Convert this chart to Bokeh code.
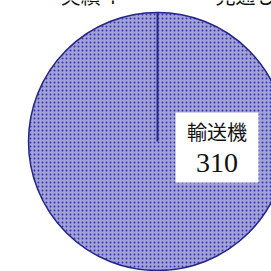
import math
from bokeh.plotting import figure
from bokeh.models import Range1d, ColumnDataSource
from bokeh.core.properties import value
from bokeh.embed import file_html
from bokeh.resources import INLINE

# data
categories = ["輸送機"]
values = [310]
header_labels = ["実績 4", "見通し"]

W = H = 271
p = figure(width=W, height=H, output_backend="svg", toolbar_location=None,
           x_range=Range1d(0, W), y_range=Range1d(0, H), min_border=0)
p.axis.visible = False
p.grid.visible = False
p.outline_line_color = None
p.background_fill_color = "white"
p.border_fill_color = "white"

RH = H  # y measured from top
cx, cy, r = 157, RH - 141, 129
total = sum(values)
starts, ends = [], []
a = math.pi / 2
for v in values:
    starts.append(a)
    a = a - 2 * math.pi * v / total
    ends.append(a)
src = ColumnDataSource(dict(cat=categories, val=values, start=starts, end=ends))

full = len(values) == 1
if full:
    p.scatter(x=[cx], y=[cy], size=2 * r, fill_color="#a2a2da", hatch_pattern="dot",
              hatch_scale=4, hatch_color="#3434a4", line_color="#24248a", line_width=1.5)
else:
    p.wedge(x=cx, y=cy, radius=r, start_angle="end", end_angle="start", source=src,
            fill_color="#a2a2da", hatch_pattern="dot", hatch_scale=4, hatch_color="#3434a4",
            line_color="#24248a", line_width=1.5)
bx = [cx + r * math.cos(s) for s in starts]
by = [cy + r * math.sin(s) for s in starts]
p.segment(x0=[cx] * len(bx), y0=[cy] * len(by), x1=bx, y1=by, line_color="#24248a", line_width=2)

p.rect(x=[216.5], y=[RH - 147], width=83, height=70, fill_color="white", line_color=None)
p.text(x=[216.5], y=[RH - 131], text=[categories[0]], text_align="center", text_baseline="middle",
       text_font=value("Noto Sans CJK JP"), text_font_size="20px", text_color="#111111")
p.text(x=[216.5], y=[RH - 162], text=[str(values[0])], text_align="center", text_baseline="middle",
       text_font=value("Liberation Serif"), text_font_size="28px", text_color="#111111")

p.text(x=[88, 245], y=[RH - 9, RH - 9], text=header_labels, text_align="center",
       text_baseline="bottom", text_font=value("Noto Sans CJK JP"), text_font_size="20px",
       text_color="#111111")

open("out.html", "w").write(file_html(p, INLINE))
